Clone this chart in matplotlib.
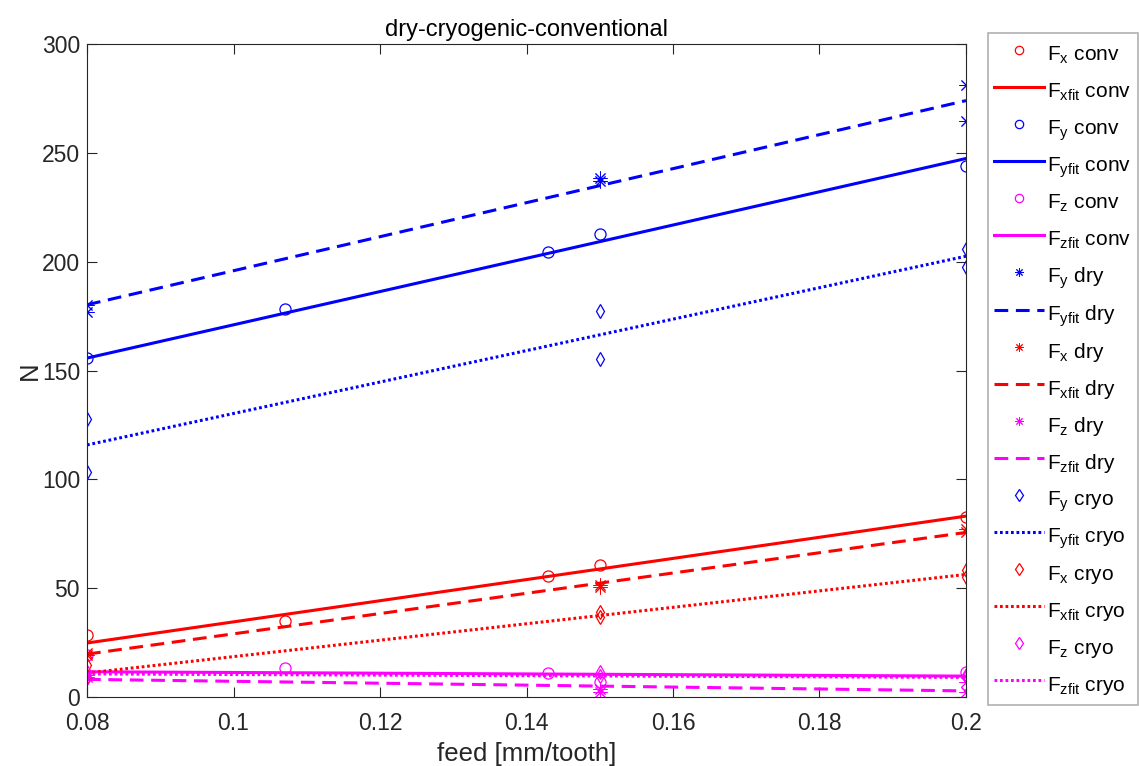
import matplotlib.pyplot as plt
import numpy as np

plt.rcParams['font.family'] = ['Liberation Sans', 'DejaVu Sans']
plt.rcParams['mathtext.default'] = 'regular'

# measured cutting forces [N] against feed [mm/tooth]
feed_conv = [0.08, 0.107, 0.143, 0.15, 0.2]
fx_conv = [28.5, 35.0, 55.6, 60.6, 82.7]
fy_conv = [155.7, 178.2, 204.5, 212.7, 243.9]
fz_conv = [19.5, 13.2, 10.8, 7.0, 11.7]

feed_dry = [0.08, 0.08, 0.15, 0.15, 0.2, 0.2]
fx_dry = [20.0, 19.5, 51.4, 50.5, 77.0, 76.0]
fy_dry = [180.2, 176.9, 238.5, 237.0, 281.1, 264.5]
fz_dry = [10.0, 9.0, 2.4, 3.5, 7.0, 2.4]

feed_cryo = [0.08, 0.08, 0.15, 0.15, 0.2, 0.2]
fx_cryo = [14.7, 9.3, 39.2, 36.9, 58.3, 55.3]
fy_cryo = [127.5, 103.4, 177.3, 155.3, 206.0, 197.5]
fz_cryo = [11.7, 8.7, 11.7, 9.5, 10.0, 9.0]

# linear fits evaluated at the ends of the feed range
feed_fit = [0.08, 0.2]
fx_fit_conv = [24.8, 83.1]
fy_fit_conv = [155.7, 247.4]
fz_fit_conv = [11.6, 9.6]
fy_fit_dry = [180.2, 274.0]
fx_fit_dry = [19.7, 75.6]
fz_fit_dry = [8.1, 2.8]
fy_fit_cryo = [115.8, 202.5]
fx_fit_cryo = [11.0, 56.3]
fz_fit_cryo = [10.6, 9.0]

red = (1, 0, 0)
blue = (0, 0, 1)
mag = (1, 0, 1)
star = (8, 2, 0)

fig = plt.figure(figsize=(11.39, 7.66), dpi=100)
ax = fig.add_axes([87 / 1139, 69 / 766, 879 / 1139, 653 / 766])

mk = dict(linestyle='none', mfc='none', mew=0.9)
smk = dict(linestyle='none', mfc='none', mew=0.7)
fit = dict(linewidth=2.2)
dashed = dict(linewidth=2.2, linestyle=(0, (4.5, 2.5)))
dotted = dict(linewidth=2.2, linestyle=(0, (0.9, 0.9)))

ax.plot(feed_conv, fx_conv, 'o', color=red, ms=8, label='F$_x$ conv', **mk)
ax.plot(feed_fit, fx_fit_conv, color=red, label='F$_{xfit}$ conv', **fit)
ax.plot(feed_conv, fy_conv, 'o', color=blue, ms=8, label='F$_y$ conv', **mk)
ax.plot(feed_fit, fy_fit_conv, color=blue, label='F$_{yfit}$ conv', **fit)
ax.plot(feed_conv, fz_conv, 'o', color=mag, ms=8, label='F$_z$ conv', **mk)
ax.plot(feed_fit, fz_fit_conv, color=mag, label='F$_{zfit}$ conv', **fit)

ax.plot(feed_dry, fy_dry, marker=star, color=blue, ms=10, label='F$_y$ dry', **smk)
ax.plot(feed_fit, fy_fit_dry, color=blue, label='F$_{yfit}$ dry', **dashed)
ax.plot(feed_dry, fx_dry, marker=star, color=red, ms=10, label='F$_x$ dry', **smk)
ax.plot(feed_fit, fx_fit_dry, color=red, label='F$_{xfit}$ dry', **dashed)
ax.plot(feed_dry, fz_dry, marker=star, color=mag, ms=10, label='F$_z$ dry', **smk)
ax.plot(feed_fit, fz_fit_dry, color=mag, label='F$_{zfit}$ dry', **dashed)

ax.plot(feed_cryo, fy_cryo, 'd', color=blue, ms=7.5, label='F$_y$ cryo', **mk)
ax.plot(feed_fit, fy_fit_cryo, color=blue, label='F$_{yfit}$ cryo', **dotted)
ax.plot(feed_cryo, fx_cryo, 'd', color=red, ms=7.5, label='F$_x$ cryo', **mk)
ax.plot(feed_fit, fx_fit_cryo, color=red, label='F$_{xfit}$ cryo', **dotted)
ax.plot(feed_cryo, fz_cryo, 'd', color=mag, ms=7.5, label='F$_z$ cryo', **mk)
ax.plot(feed_fit, fz_fit_cryo, color=mag, label='F$_{zfit}$ cryo', **dotted)

ax.set_xlim(0.08, 0.2)
ax.set_ylim(0, 300)
ax.set_xticks([0.08, 0.1, 0.12, 0.14, 0.16, 0.18, 0.2])
ax.set_xticklabels(['0.08', '0.1', '0.12', '0.14', '0.16', '0.18', '0.2'])
ax.set_yticks(np.arange(0, 301, 50))

dark = '#262626'
for s in ax.spines.values():
    s.set_color(dark)
    s.set_linewidth(0.8)
ax.tick_params(direction='in', top=True, right=True, length=7, width=0.8,
               colors=dark, labelsize=16.5)
ax.tick_params(axis='x', pad=10.5)
ax.tick_params(axis='y', pad=5)

ax.set_title('dry-cryogenic-conventional', fontsize=17, color='black', pad=6)
ax.set_xlabel('feed [mm/tooth]', fontsize=18.5, color=dark, labelpad=5)
ax.set_ylabel('N', fontsize=18.5, color=dark, labelpad=0)

leg = ax.legend(loc='upper left', bbox_to_anchor=(988 / 1139, 733 / 766),
                bbox_transform=fig.transFigure, fontsize=15, frameon=True,
                fancybox=False, edgecolor='#b0b0b0', framealpha=1,
                handlelength=2.4, handleheight=1.8, handletextpad=0.15,
                labelspacing=0.36, borderpad=0.3, borderaxespad=0)
leg.get_frame().set_linewidth(1.2)
for h in leg.legend_handles:
    h.set_markersize(6)

fig.savefig('out.png', dpi=100)
